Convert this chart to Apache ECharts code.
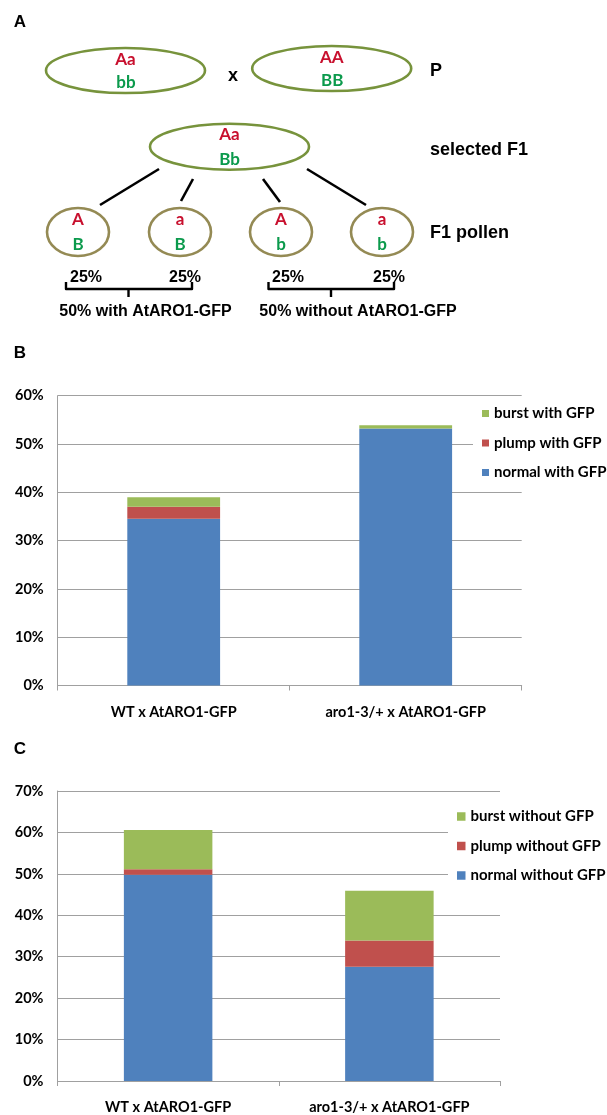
<!DOCTYPE html>
<html>
<head>
<meta charset="utf-8">
<script src="https://cdn.jsdelivr.net/npm/echarts@6/dist/echarts.min.js"></script>
<style>html,body{margin:0;padding:0;background:#fff;}#c{width:607px;height:1115px;}</style>
</head>
<body>
<div id="c"></div>
<script>
// ---------- DATA ----------
const categories = ['WT x AtARO1-GFP', 'aro1-3/+ x AtARO1-GFP'];
// Panel B: pollen with GFP (%)
const normalWithGFP = [34.5, 53.2];
const plumpWithGFP = [2.5, 0];
const burstWithGFP = [2.0, 0.7];
// Panel C: pollen without GFP (%)
const normalWithoutGFP = [49.8, 27.6];
const plumpWithoutGFP = [1.3, 6.3];
const burstWithoutGFP = [9.5, 12.0];
const seriesNamesB = ['normal with GFP', 'plump with GFP', 'burst with GFP'];
const seriesNamesC = ['normal without GFP', 'plump without GFP', 'burst without GFP'];
const yMaxB = 60, yMaxC = 70, yStep = 10;
// Panel A: cross diagram texts
const panelLabels = ['A', 'B', 'C'];
const parentGenotypes = [['Aa', 'bb'], ['AA', 'BB']];
const f1Genotype = ['Aa', 'Bb'];
const pollenGenotypes = [['A', 'B'], ['a', 'B'], ['A', 'b'], ['a', 'b']];
const pollenShares = ['25%', '25%', '25%', '25%'];
const groupLabels = ['50% with AtARO1-GFP', '50% without AtARO1-GFP'];
const rowLabels = ['P', 'selected F1', 'F1 pollen'];
const crossSign = 'x';

// ---------- STYLE ----------
const BLUE = '#4f81bd', RED = '#c0504d', GREEN = '#9bbb59';
const GRID = '#a0a0a0';
const ALLELE_A = '#c8102e', ALLELE_B = '#0b9a4c';
const ELL = '#77933c', POL = '#948a54';
const chartFont = 'Lato';
const diagFont = 'Liberation Sans';

const chart = echarts.init(document.getElementById('c'), null, {renderer: 'canvas'});

function txt(x, y, s, font, color, align) {
  return {type: 'text', x: x, y: y, style: {text: s, font: font, fill: color || '#000',
    textAlign: align || 'center', textVerticalAlign: 'middle'}};
}
const G = [];
// panel labels
G.push(txt(20, 22, panelLabels[0], 'bold 17px ' + diagFont));
G.push(txt(20, 353, panelLabels[1], 'bold 17px ' + diagFont));
G.push(txt(20, 749, panelLabels[2], 'bold 17px ' + diagFont));

const genoFont = 'bold 17px ' + chartFont;
// parents
const parentPos = [[125.5, 70.5], [331.7, 68.5]];
parentGenotypes.forEach((g, i) => {
  const [cx, cy] = parentPos[i];
  G.push({type: 'ellipse', shape: {cx: cx, cy: cy, rx: 79.5, ry: 22.5},
    style: {fill: 'none', stroke: ELL, lineWidth: 2.6}});
  G.push(txt(cx, cy - 11, g[0], genoFont, ALLELE_A));
  G.push(txt(cx + 0.5, cy + 12.5, g[1], genoFont, ALLELE_B));
});
G.push(txt(233, 76, crossSign, 'bold 18px ' + diagFont));
G.push(txt(430, 71, rowLabels[0], 'bold 18px ' + diagFont, '#000', 'left'));
// F1
G.push({type: 'ellipse', shape: {cx: 229.5, cy: 146.7, rx: 79.5, ry: 23},
  style: {fill: 'none', stroke: ELL, lineWidth: 2.6}});
G.push(txt(229.5, 135, f1Genotype[0], genoFont, ALLELE_A));
G.push(txt(229.5, 160, f1Genotype[1], genoFont, ALLELE_B));
G.push(txt(430, 150, rowLabels[1], 'bold 18px ' + diagFont, '#000', 'left'));
// connector lines
[[159, 169, 100, 205], [193, 179, 181, 201], [263, 179, 280, 202], [307, 169, 366, 205]].forEach(l => {
  G.push({type: 'line', shape: {x1: l[0], y1: l[1], x2: l[2], y2: l[3]},
    style: {stroke: '#000', lineWidth: 2.6}});
});
// pollen
const pollenX = [78, 180, 281, 382];
pollenGenotypes.forEach((g, i) => {
  const cx = pollenX[i];
  G.push({type: 'ellipse', shape: {cx: cx, cy: 232, rx: 31, ry: 24},
    style: {fill: 'none', stroke: POL, lineWidth: 2.6}});
  G.push(txt(cx, 220, g[0], genoFont, ALLELE_A));
  G.push(txt(cx, 245, g[1], genoFont, ALLELE_B));
});
G.push(txt(430, 233, rowLabels[2], 'bold 18px ' + diagFont, '#000', 'left'));
// shares
const shareX = [86, 185, 288, 389];
pollenShares.forEach((s, i) => G.push(txt(shareX[i], 277.5, s, 'bold 16px ' + diagFont)));
// brackets
[[66, 192, 128.5], [268.5, 394, 331]].forEach(b => {
  G.push({type: 'polyline', shape: {points: [[b[0], 282], [b[0], 289], [b[1], 289], [b[1], 282]]},
    style: {fill: 'none', stroke: '#000', lineWidth: 2.4, lineJoin: 'round'}});
  G.push({type: 'line', shape: {x1: b[2], y1: 289, x2: b[2], y2: 297},
    style: {stroke: '#000', lineWidth: 2.4}});
});
G.push(txt(145.5, 312, groupLabels[0], 'bold 16px ' + diagFont));
G.push(txt(358, 312, groupLabels[1], 'bold 16px ' + diagFont));

const axisLabelStyle = {color: '#000', fontFamily: chartFont, fontWeight: 'bold', fontSize: 14.5};

function yAxis(gi, max) {
  return {type: 'value', gridIndex: gi, min: 0, max: max, interval: yStep,
    axisLabel: Object.assign({formatter: '{value}%', margin: 14}, axisLabelStyle),
    axisLine: {show: true, lineStyle: {color: GRID, width: 1}},
    axisTick: {show: false},
    splitLine: {lineStyle: {color: GRID, width: 1}}};
}
function xAxis(gi) {
  return {type: 'category', gridIndex: gi, data: categories,
    axisLabel: Object.assign({margin: 19}, axisLabelStyle),
    axisLine: {lineStyle: {color: GRID, width: 1}},
    axisTick: {show: true, length: 5, lineStyle: {color: GRID}}};
}
function bars(names, arrays, gi, stack) {
  const cols = [BLUE, RED, GREEN];
  return names.map((n, i) => ({name: n, type: 'bar', stack: stack, xAxisIndex: gi, yAxisIndex: gi,
    data: arrays[i], barWidth: '40%', itemStyle: {color: cols[i]}, silent: true, animation: false}));
}
function legend(names, left, top, iconSize, pad) {
  return {orient: 'vertical', left: left, top: top, data: names.slice().reverse(),
    icon: 'rect', itemWidth: iconSize, itemHeight: iconSize, itemGap: 14.5,
    backgroundColor: '#fff', padding: pad,
    textStyle: {color: '#000', fontFamily: chartFont, fontWeight: 'bold', fontSize: 15, lineHeight: 15},
    selectedMode: false};
}

chart.setOption({
  animation: false,
  grid: [
    {left: 57.7, right: 607 - 521.7, top: 395.7, bottom: 1115 - 685.5},
    {left: 57.5, right: 607 - 500, top: 791, bottom: 1115 - 1081.5}
  ],
  xAxis: [xAxis(0), xAxis(1)],
  yAxis: [yAxis(0, yMaxB), yAxis(1, yMaxC)],
  legend: [
    legend(seriesNamesB, 473, 400, 7, [6, 0, 6, 9]),
    legend(seriesNamesC, 448, 802, 8.5, [7, 0, 6, 9])
  ],
  series: bars(seriesNamesB, [normalWithGFP, plumpWithGFP, burstWithGFP], 0, 'B')
    .concat(bars(seriesNamesC, [normalWithoutGFP, plumpWithoutGFP, burstWithoutGFP], 1, 'C')),
  graphic: G
});
</script>
</body>
</html>
